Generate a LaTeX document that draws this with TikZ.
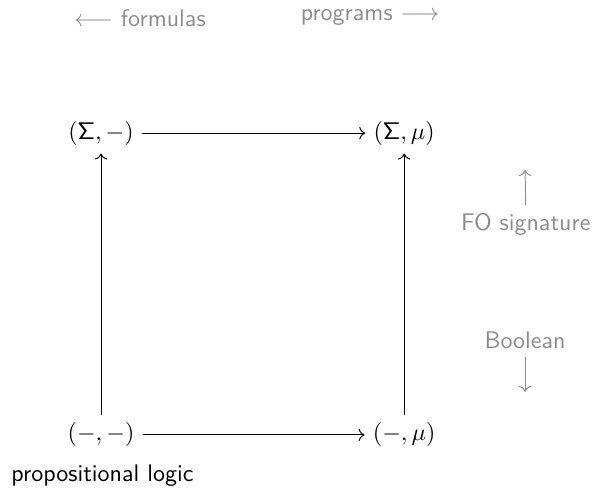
\documentclass[tikz,border=0pt]{standalone}
\usepackage{amsmath,amssymb}
\usepackage{xcolor}
\usepackage{tikz}
\usetikzlibrary{arrows.meta,positioning,calc}

\begin{document}
\begin{tikzpicture}[font=\sffamily,
    obj/.style={inner sep=3.3pt},
    hint/.style={text=black!45},
    hintarr/.style={->, draw=black!45},
    maparr/.style={->}]
  \useasboundingbox (0,0) rectangle (8.70,-7.17);
  % Direction hints on top
  \node[hint] (form) at (2.05,-0.26) {$\longleftarrow$ formulas};
  \node[hint] (prog) at (5.42,-0.26) {programs $\longrightarrow$};
  % The four corners of the square
  \node[obj] (sigmin) at (1.48,-1.95) {$(\mathsf{\Sigma},-)$};
  \node[obj] (sigmu)  at (5.92,-1.95) {$(\mathsf{\Sigma},\mu)$};
  \node[obj] (minmin) at (1.48,-6.37) {$(-,-)$};
  \node[obj] (minmu)  at (5.92,-6.37) {$(-,\mu)$};
  % Maps
  \draw[maparr] (sigmin) -- (sigmu);
  \draw[maparr] (minmin) -- (minmu);
  \draw[maparr] (minmin) -- (sigmin);
  \draw[maparr] (minmu) -- (sigmu);
  % Side hints
  \node[hint] (fosig) at (7.70,-3.29) {FO signature};
  \coordinate (fotop) at (7.69,-2.49);
  \draw[hintarr] (fosig.north) -- (fotop);
  \node[hint] (bool) at (7.69,-4.98) {Boolean};
  \coordinate (boolbot) at (7.69,-5.74);
  \draw[hintarr] (bool.south) -- (boolbot);
  % Corner label
  \node (proplog) at (1.50,-6.97) {propositional logic};
\end{tikzpicture}
\end{document}
